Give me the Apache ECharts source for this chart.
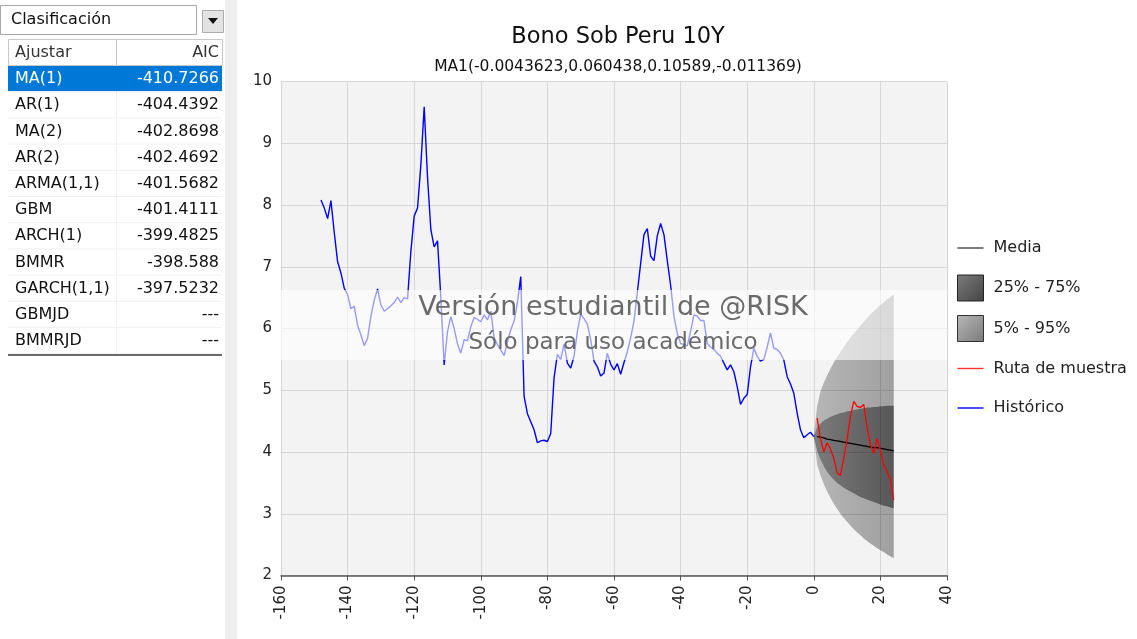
<!DOCTYPE html>
<html><head><meta charset="utf-8">
<script src="https://cdn.jsdelivr.net/npm/echarts@6/dist/echarts.min.js"></script>
<style>html,body{margin:0;padding:0;background:#fff;}#c{width:1137px;height:639px;}</style>
</head><body><div id="c"></div>
<script>
// ---------- data ----------
const title = 'Bono Sob Peru 10Y';
const subtitle = 'MA1(-0.0043623,0.060438,0.10589,-0.011369)';
const models = ['MA(1)','AR(1)','MA(2)','AR(2)','ARMA(1,1)','GBM','ARCH(1)','BMMR','GARCH(1,1)','GBMJD','BMMRJD'];
const aicValues = ['-410.7266','-404.4392','-402.8698','-402.4692','-401.5682','-401.4111','-399.4825','-398.588','-397.5232','---','---'];

const histStart = -148;
const histValues = [
 8.08,7.95,7.78,8.07,7.55,7.08,6.90,6.65,6.55,6.32,
 6.36,6.05,5.90,5.72,5.84,6.20,6.46,6.64,6.38,6.28,
 6.32,6.37,6.42,6.51,6.42,6.50,6.48,7.25,7.82,7.95,
 8.65,9.59,8.45,7.60,7.32,7.42,6.50,5.41,5.95,6.19,
 6.00,5.75,5.60,5.82,5.80,6.03,6.18,6.15,6.11,6.22,
 6.14,6.28,5.85,5.74,5.65,5.56,5.78,5.98,6.12,6.42,
 6.84,4.90,4.62,4.49,4.36,4.15,4.18,4.19,4.17,4.30,
 5.20,5.58,5.50,5.75,5.44,5.36,5.55,5.95,6.23,6.16,
 6.07,5.82,5.47,5.38,5.23,5.28,5.60,5.42,5.33,5.43,
 5.26,5.45,5.62,5.85,6.12,6.58,7.05,7.52,7.62,7.17,
 7.10,7.50,7.70,7.52,7.10,6.70,6.20,5.92,5.76,5.74,
 5.72,5.95,6.22,6.20,6.13,6.13,5.76,5.70,5.66,5.60,
 5.55,5.44,5.33,5.41,5.30,5.06,4.77,4.87,4.93,5.38,
 5.68,5.55,5.47,5.50,5.70,5.93,5.68,5.66,5.60,5.49,
 5.22,5.10,4.95,4.63,4.36,4.23,4.28,4.32,4.25
];

const fcStart = 1;
const meanValues = [4.25,4.24,4.23,4.21,4.20,4.19,4.18,4.17,4.16,4.15,4.14,4.13,4.12,4.11,4.10,4.09,4.08,4.07,4.07,4.06,4.05,4.04,4.03,4.02];
const sampleValues = [4.55,4.22,4.00,4.15,4.05,3.90,3.66,3.62,3.90,4.20,4.58,4.82,4.74,4.72,4.77,4.40,4.12,3.98,4.22,4.02,3.80,3.68,3.56,3.22];

const fanT = [0,1,2,3,4,5,6,7,8,9,10,11,12,13,14,15,16,17,18,19,20,21,22,23,24];
const p95 = [4.25,4.75,4.98,5.12,5.24,5.35,5.45,5.54,5.62,5.70,5.78,5.85,5.92,5.98,6.05,6.11,6.17,6.23,6.28,6.33,6.38,6.42,6.47,6.51,6.55];
const p5  = [4.25,3.80,3.62,3.48,3.36,3.26,3.16,3.08,3.00,2.93,2.87,2.81,2.75,2.70,2.65,2.60,2.56,2.52,2.48,2.44,2.41,2.38,2.34,2.31,2.28];
const p75 = [4.25,4.40,4.46,4.51,4.54,4.57,4.59,4.61,4.63,4.64,4.66,4.67,4.68,4.69,4.70,4.71,4.72,4.72,4.73,4.73,4.74,4.74,4.75,4.75,4.75];
const p25 = [4.25,4.02,3.88,3.77,3.68,3.61,3.55,3.50,3.46,3.42,3.39,3.36,3.33,3.30,3.27,3.25,3.23,3.21,3.19,3.17,3.15,3.13,3.12,3.10,3.09];

const xTicks = {min:-160, max:40, interval:20};
const yTicks = {min:2, max:10, interval:1};

// ---------- chart ----------
const FONT = 'DejaVu Sans';
const chart = echarts.init(document.getElementById('c'), null, {renderer:'canvas'});
const LG = echarts.graphic.LinearGradient;

function band(upper, lower, fill) {
  return function(params, api) {
    if (params.dataIndex !== 0) return null;
    const pts = [];
    for (let i = 0; i < fanT.length; i++) pts.push(api.coord([fanT[i], upper[i]]));
    for (let i = fanT.length - 1; i >= 0; i--) pts.push(api.coord([fanT[i], lower[i]]));
    return {type:'polygon', shape:{points:pts}, style:{fill:fill}};
  };
}
const outerFill = new LG(0,0,1,0,[{offset:0,color:'rgba(0,0,0,0.25)'},{offset:1,color:'rgba(0,0,0,0.34)'}]);
const innerFill = new LG(0,0,1,0,[{offset:0,color:'rgba(0,0,0,0.32)'},{offset:1,color:'rgba(0,0,0,0.45)'}]);

// left panel graphics
const TF = '16px ' + FONT;
const panel = [];
panel.push({type:'rect', shape:{x:225,y:0,width:12,height:639}, style:{fill:'#eeeeee'}});
panel.push({type:'rect', shape:{x:0.5,y:5.5,width:196,height:29}, style:{fill:'#fff',stroke:'#a8a8a8',lineWidth:1}});
panel.push({type:'text', x:11, y:20, style:{text:'Clasificación', font:TF, fill:'#111', verticalAlign:'middle'}});
panel.push({type:'rect', shape:{x:202.5,y:10.5,width:21,height:22}, style:{fill:'#e3e3e3',stroke:'#adadad',lineWidth:1}});
panel.push({type:'polygon', shape:{points:[[208,18],[218,18],[213,24]]}, style:{fill:'#111'}});
// header
panel.push({type:'rect', shape:{x:8.5,y:39.5,width:214,height:26}, style:{fill:'#fff',stroke:'#c8c8c8',lineWidth:1}});
panel.push({type:'line', shape:{x1:116.5,y1:40,x2:116.5,y2:65}, style:{stroke:'#c8c8c8',lineWidth:1}});
panel.push({type:'text', x:15, y:53, style:{text:'Ajustar', font:TF, fill:'#333', verticalAlign:'middle'}});
panel.push({type:'text', x:219, y:53, style:{text:'AIC', font:TF, fill:'#333', verticalAlign:'middle', align:'right'}});
const rowH = 26.2;
models.forEach((m, i) => {
  const y0 = 66 + i * rowH;
  if (i === 0) {
    panel.push({type:'rect', shape:{x:8,y:y0,width:214,height:rowH-1}, style:{fill:'#0078d7'}});
  }
  panel.push({type:'line', shape:{x1:8,y1:y0+rowH-0.5,x2:222,y2:y0+rowH-0.5}, style:{stroke:'#f0f0f0',lineWidth:1}});
  panel.push({type:'line', shape:{x1:116.5,y1:y0,x2:116.5,y2:y0+rowH-1}, style:{stroke:i===0?'#0078d7':'#f0f0f0',lineWidth:1}});
  const col = i === 0 ? '#fff' : '#111';
  panel.push({type:'text', x:15, y:y0+rowH/2, style:{text:m, font:TF, fill:col, verticalAlign:'middle'}});
  panel.push({type:'text', x:219, y:y0+rowH/2, style:{text:aicValues[i], font:TF, fill:col, verticalAlign:'middle', align:'right'}});
});
panel.push({type:'line', shape:{x1:8,y1:355,x2:222,y2:355}, style:{stroke:'#6a6a6a',lineWidth:2}});

// watermark
const wm = [
  {type:'rect', z:100, shape:{x:281,y:290,width:666,height:70}, style:{fill:'rgba(255,255,255,0.6)'}},
  {type:'text', z:101, x:613, y:308, style:{text:'Versión estudiantil de @RISK', font:'27px '+FONT, fill:'#6a6a6a', align:'center', verticalAlign:'middle'}},
  {type:'text', z:101, x:613, y:343, style:{text:'Sólo para uso académico', font:'23px '+FONT, fill:'#6a6a6a', align:'center', verticalAlign:'middle'}}
];

// thin line icon whose bounding box is a full 26x26 square (the extra move-to points only widen the box)
const lineIcon = 'path://M0,0 M0,12.3 L26,12.3 L26,13.7 L0,13.7 Z M26,26';
const option = {
  animation:false,
  backgroundColor:'#ffffff',
  title:[
    {text:title, left:613, top:21, textAlign:'center', textStyle:{fontFamily:FONT, fontSize:22.5, fontWeight:'normal', color:'#111'}},
    {text:subtitle, left:613, top:54, textAlign:'center', textStyle:{fontFamily:FONT, fontSize:15.5, fontWeight:'normal', color:'#111'}}
  ],
  grid:{left:281, right:190, top:81.5, bottom:63.5, show:true, backgroundColor:'#f3f3f3', borderWidth:0},
  xAxis:{type:'value', min:xTicks.min, max:xTicks.max, interval:xTicks.interval,
    axisLine:{show:true, onZero:false, lineStyle:{color:'#555', width:1.5}},
    axisTick:{show:true, length:5, lineStyle:{color:'#555'}},
    axisLabel:{rotate:90, margin:10, fontFamily:FONT, fontSize:15, color:'#222'},
    splitLine:{show:true, lineStyle:{color:'#d6d6d6', width:1}}},
  yAxis:{type:'value', min:yTicks.min, max:yTicks.max, interval:yTicks.interval,
    axisLine:{show:false}, axisTick:{show:false},
    axisLabel:{margin:9, fontFamily:FONT, fontSize:15, color:'#222'},
    splitLine:{show:true, lineStyle:{color:'#d6d6d6', width:1}}},
  legend:{orient:'vertical', left:957, top:235, padding:0, itemWidth:26, itemHeight:26, itemGap:13.5,
    symbolKeepAspect:true,
    textStyle:{fontFamily:FONT, fontSize:16, color:'#222', padding:[0,0,0,5]},
    data:[
      {name:'Media', icon:lineIcon, itemStyle:{color:'#444'}},
      {name:'25% - 75%', icon:'rect', itemStyle:{color:new LG(0,0,1,1,[{offset:0,color:'#7c7c7c'},{offset:1,color:'#444'}]), borderColor:'#222', borderWidth:1}},
      {name:'5% - 95%', icon:'rect', itemStyle:{color:new LG(0,0,1,1,[{offset:0,color:'#b8b8b8'},{offset:1,color:'#7a7a7a'}]), borderColor:'#333', borderWidth:1}},
      {name:'Ruta de muestra', icon:lineIcon, itemStyle:{color:'#ff3030'}},
      {name:'Histórico', icon:lineIcon, itemStyle:{color:'#0000ee'}}
    ]},
  graphic:panel.concat(wm),
  series:[
    {name:'5% - 95%', type:'custom', z:1, renderItem:band(p95, p5, outerFill), data:fanT.map((t,i)=>[t,p95[i],p5[i]]), encode:{x:0,y:[1,2]}, silent:true},
    {name:'25% - 75%', type:'custom', z:2, renderItem:band(p75, p25, innerFill), data:fanT.map((t,i)=>[t,p75[i],p25[i]]), encode:{x:0,y:[1,2]}, silent:true},
    {name:'Media', type:'line', z:3, symbol:'none', data:meanValues.map((v,i)=>[fcStart+i,v]), lineStyle:{color:'#000', width:1.3}, itemStyle:{color:'#000'}},
    {name:'Ruta de muestra', type:'line', z:4, symbol:'none', data:sampleValues.map((v,i)=>[fcStart+i,v]), lineStyle:{color:'#ff0000', width:1.3}, itemStyle:{color:'#ff0000'}},
    {name:'Histórico', type:'line', z:5, symbol:'none', data:histValues.map((v,i)=>[histStart+i,v]), lineStyle:{color:'#0000ff', width:1.4}, itemStyle:{color:'#0000ff'}}
  ]
};
chart.setOption(option);
</script></body></html>
